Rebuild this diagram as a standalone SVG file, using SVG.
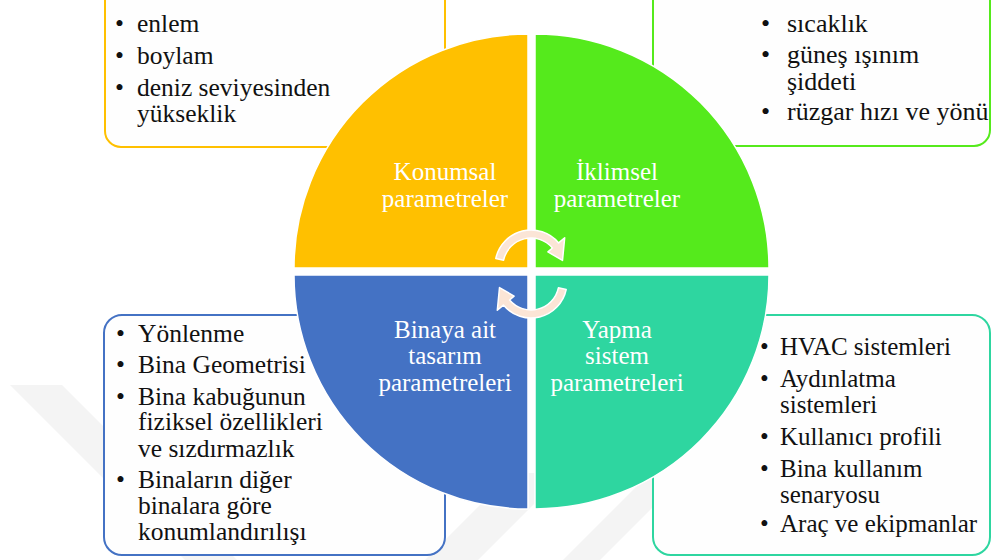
<svg xmlns="http://www.w3.org/2000/svg" width="992" height="560" viewBox="0 0 992 560">
<style>
.box{fill:#FEFEFE;stroke-width:2}
text{font-family:'Liberation Serif','Times New Roman','DejaVu Serif',serif}
.t{font-size:25.5px;fill:#111}
.tr{font-size:26px;fill:#111}
.t24{font-size:25px;fill:#111}
.lab{font-size:25px;fill:#FFFFFF;text-anchor:middle}
.q{stroke:#FFFFFF;stroke-width:1.5}
.arr{fill:#FBE5D6;stroke:#FFFFFF;stroke-width:1.5;stroke-linejoin:round}
.wm{fill:#F4F4F4}
</style>
<defs>
<path id="cyc" d="M495.8,258.5 A36,36 0 0 1 558.6,242.9 L564.7,237.7 L562.5,260.4 L547.9,251.9 L552.4,248.0 A28,28 0 0 0 503.6,260.2 Z"/>
</defs>
<rect width="992" height="560" fill="#FFFFFF"/>
<g id="watermark">
<polygon class="wm" points="10,385 62,385 237,560 185,560"/>
<polygon class="wm" points="425,560 478,560 565,473 512,473"/>
<polygon class="wm" points="563,560 600,560 690,470 653,470"/>
</g>
<g id="box-konumsal">
<rect class="box" x="105" y="-20" width="340" height="167" rx="16" stroke="#FFC000"/>
<text class="t"><tspan x="115" y="32">•</tspan><tspan x="137" y="32">enlem</tspan></text>
<text class="t"><tspan x="115" y="64">•</tspan><tspan x="137" y="64">boylam</tspan></text>
<text class="t"><tspan x="115" y="96">•</tspan><tspan x="137" y="96">deniz seviyesinden</tspan></text>
<text class="t" x="137" y="122">yükseklik</text>
</g>
<g id="box-iklimsel">
<rect class="box" x="653" y="-20" width="337" height="166" rx="16" stroke="#55EA1C"/>
<text class="tr"><tspan x="761" y="32">•</tspan><tspan x="787" y="32">sıcaklık</tspan></text>
<text class="tr"><tspan x="761" y="63">•</tspan><tspan x="787" y="63">güneş ışınım</tspan></text>
<text class="tr" x="787" y="90">şiddeti</text>
<text class="tr"><tspan x="761" y="120">•</tspan><tspan x="787" y="120">rüzgar hızı ve yönü</tspan></text>
</g>
<g id="box-bina">
<rect class="box" x="104" y="315" width="341" height="240" rx="18" stroke="#4472C4"/>
<text class="t"><tspan x="116" y="342">•</tspan><tspan x="138" y="342">Yönlenme</tspan></text>
<text class="t"><tspan x="116" y="373">•</tspan><tspan x="138" y="373">Bina Geometrisi</tspan></text>
<text class="t"><tspan x="116" y="405">•</tspan><tspan x="138" y="405">Bina kabuğunun</tspan></text>
<text class="t" x="138" y="430">fiziksel  özellikleri</text>
<text class="t" x="138" y="457">ve sızdırmazlık</text>
<text class="t"><tspan x="116" y="488">•</tspan><tspan x="138" y="488">Binaların diğer</tspan></text>
<text class="t" x="138" y="514">binalara göre</text>
<text class="t" x="138" y="540">konumlandırılışı</text>
</g>
<g id="box-yapma">
<rect class="box" x="653" y="315" width="337" height="240" rx="18" stroke="#2ED6A0"/>
<text class="t24"><tspan x="760" y="355">•</tspan><tspan x="780" y="355">HVAC sistemleri</tspan></text>
<text class="t24"><tspan x="760" y="387">•</tspan><tspan x="780" y="387">Aydınlatma</tspan></text>
<text class="t24" x="780" y="413">sistemleri</text>
<text class="t24"><tspan x="760" y="445">•</tspan><tspan x="780" y="445">Kullanıcı profili</tspan></text>
<text class="t24"><tspan x="760" y="477">•</tspan><tspan x="780" y="477">Bina kullanım</tspan></text>
<text class="t24" x="780" y="503">senaryosu</text>
<text class="t24"><tspan x="760" y="532">•</tspan><tspan x="780" y="532">Araç ve ekipmanlar</tspan></text>
</g>
<g id="q-konumsal">
<path class="q" d="M528,268 L294,268 A234,234 0 0 1 528,34 Z" fill="#FFC000"/>
<text class="lab"><tspan x="445" y="180">Konumsal</tspan><tspan x="445" y="207">parametreler</tspan></text>
</g>
<g id="q-iklimsel">
<path class="q" d="M535,268 L535,34 A234,234 0 0 1 769,268 Z" fill="#55EA1C"/>
<text class="lab"><tspan x="617" y="180">İklimsel</tspan><tspan x="617" y="207">parametreler</tspan></text>
</g>
<g id="q-bina">
<path class="q" d="M528,275 L528,509 A234,234 0 0 1 294,275 Z" fill="#4472C4"/>
<text class="lab"><tspan x="445" y="338">Binaya ait</tspan><tspan x="445" y="364">tasarım</tspan><tspan x="445" y="391">parametreleri</tspan></text>
</g>
<g id="q-yapma">
<path class="q" d="M535,275 L769,275 A234,234 0 0 1 535,509 Z" fill="#2ED6A0"/>
<text class="lab"><tspan x="617" y="338">Yapma</tspan><tspan x="617" y="364">sistem</tspan><tspan x="617" y="391">parametreleri</tspan></text>
</g>
<g id="connectors">
<use href="#cyc" class="arr"/>
<use href="#cyc" class="arr" transform="rotate(180 531 274)"/>
</g>
</svg>
